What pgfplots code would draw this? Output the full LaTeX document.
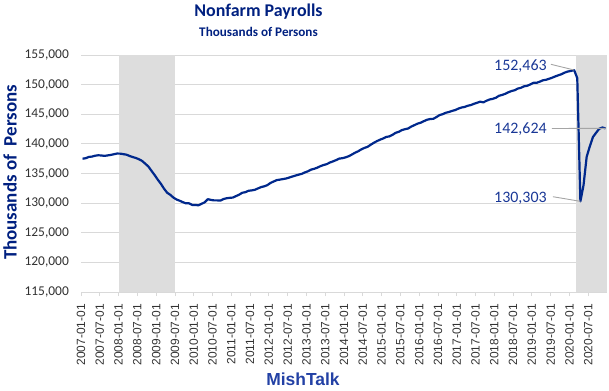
\documentclass[border=0pt]{standalone}
\usepackage{fontspec}
\setmainfont{Carlito}
\newfontfamily\arial{Liberation Sans}
\usepackage{pgfplots}
\usepackage{pgfplotstable}
\pgfplotsset{compat=1.18}
\definecolor{titleblue}{RGB}{0,32,128}
\definecolor{linenavy}{RGB}{0,40,140}
\definecolor{mishblue}{RGB}{35,65,165}
\definecolor{annblue}{RGB}{25,55,150}
\definecolor{shade}{RGB}{221,221,221}
\definecolor{gridgray}{RGB}{217,217,217}
\definecolor{ticktext}{RGB}{50,50,50}
\definecolor{leader}{RGB}{165,165,165}

\pgfplotstableread{
v
137497
137582
137796
137855
138001
138076
138043
137972
138053
138135
138250
138365
138353
138266
138180
137965
137782
137622
137407
137126
136667
136190
135462
134757
133976
133275
132449
131765
131411
130944
130617
130408
130171
129962
129970
129698
129688
129633
129886
130137
130668
130544
130465
130465
130425
130689
130825
130894
130940
131186
131421
131749
131850
132085
132150
132246
132478
132702
132836
133031
133403
133641
133884
133965
134063
134153
134312
134489
134651
134803
134941
135185
135381
135660
135801
135992
136247
136436
136583
136859
137047
137269
137521
137585
137727
137914
138195
138503
138741
139068
139311
139497
139850
140172
140463
140708
140907
141178
141262
141528
141871
142035
142331
142477
142602
142926
143165
143419
143575
143831
144066
144192
144228
144513
144856
145010
145255
145378
145560
145706
145946
146135
146231
146431
146548
146766
146938
147125
147007
147278
147493
147602
147783
148116
148263
148450
148713
148916
149051
149336
149467
149711
149808
150034
150301
150302
150491
150729
150814
150986
151174
151393
151586
151771
152032
152212
152312
152463
151090
130303
133028
137809
139570
141149
141865
142545
142764
142624
}\payrolls

\begin{document}
\begin{tikzpicture}[x=1bp,y=1bp]
\useasboundingbox (0,0) rectangle (609,390);
\begin{axis}[
  at={(81bp,98bp)}, anchor=south west,
  scale only axis, width=526bp, height=237bp,
  xmin=-0.5, xmax=167.5, ymin=115000, ymax=155000,
  scaled y ticks=false, scaled x ticks=false,
  axis x line*=bottom, axis y line*=left,
  y axis line style={draw=none},
  x axis line style={draw=gridgray, line width=0.8bp},
  ymajorgrids, grid style={draw=gridgray, line width=0.9bp},
  ytick={115000,120000,125000,130000,135000,140000,145000,150000,155000},
  yticklabels={{115,000},{120,000},{125,000},{130,000},{135,000},{140,000},{145,000},{150,000},{155,000}},
  ytick style={draw=none},
  yticklabel style={font=\fontsize{13.5}{13.5}\selectfont, text=ticktext, anchor=east, inner xsep=12bp, inner ysep=0pt},
  xtick={-0.5,5.5,...,161.5},
  xticklabels={2007-01-01,2007-07-01,2008-01-01,2008-07-01,2009-01-01,2009-07-01,2010-01-01,2010-07-01,2011-01-01,2011-07-01,2012-01-01,2012-07-01,2013-01-01,2013-07-01,2014-01-01,2014-07-01,2015-01-01,2015-07-01,2016-01-01,2016-07-01,2017-01-01,2017-07-01,2018-01-01,2018-07-01,2019-01-01,2019-07-01,2020-01-01,2020-07-01},
  xtick align=outside, major tick length=4bp,
  xtick style={draw=gridgray, line width=0.8bp},
  xticklabel style={font=\arial\fontsize{12}{12}\selectfont, text=ticktext, rotate=90, anchor=east, inner xsep=8bp, inner ysep=0pt},
]
\addplot[fill=shade, draw=none] coordinates {(11.5,115000) (11.5,155000) (29.5,155000) (29.5,115000)} -- cycle;
\addplot[fill=shade, draw=none] coordinates {(157.5,115000) (157.5,155000) (167.5,155000) (167.5,115000)} -- cycle;
\addplot[draw=linenavy, line width=2.2bp, mark=none, line join=round] table[x expr=\coordindex, y=v] {\payrolls};
\draw[leader, line width=0.9bp] (axis cs:149.6,153430) -- (axis cs:157,152463);
\draw[leader, line width=0.9bp] (axis cs:149.9,142595) -- (axis cs:167,142624);
\draw[leader, line width=0.9bp] (axis cs:150.2,131085) -- (axis cs:159,130303);
\node[anchor=east, inner sep=0pt, text=annblue, font=\fontsize{16}{16}\selectfont] at (axis cs:148.3,153059) {152,463};
\node[anchor=east, inner sep=0pt, text=annblue, font=\fontsize{16}{16}\selectfont] at (axis cs:148.3,142511) {142,624};
\node[anchor=east, inner sep=0pt, text=annblue, font=\fontsize{16}{16}\selectfont] at (axis cs:148.3,130814) {130,303};
\end{axis}
\node[anchor=base, inner sep=0pt, text=titleblue, font=\bfseries\fontsize{18}{18}\selectfont] at (258.5,373.3) {Nonfarm Payrolls};
\node[anchor=base, inner sep=0pt, text=titleblue, font=\bfseries\fontsize{13.2}{13.2}\selectfont] at (258.5,354) {Thousands of Persons};
\node[anchor=base, rotate=90, inner sep=0pt, text=titleblue, font=\bfseries\fontsize{19}{19}\selectfont] at (16.7,217.5) {Thousands of~~Persons};
\node[anchor=base, inner sep=0pt, text=mishblue, font=\arial\bfseries\fontsize{17.5}{17.5}\selectfont] at (303,5) {MishTalk};
\end{tikzpicture}
\end{document}
